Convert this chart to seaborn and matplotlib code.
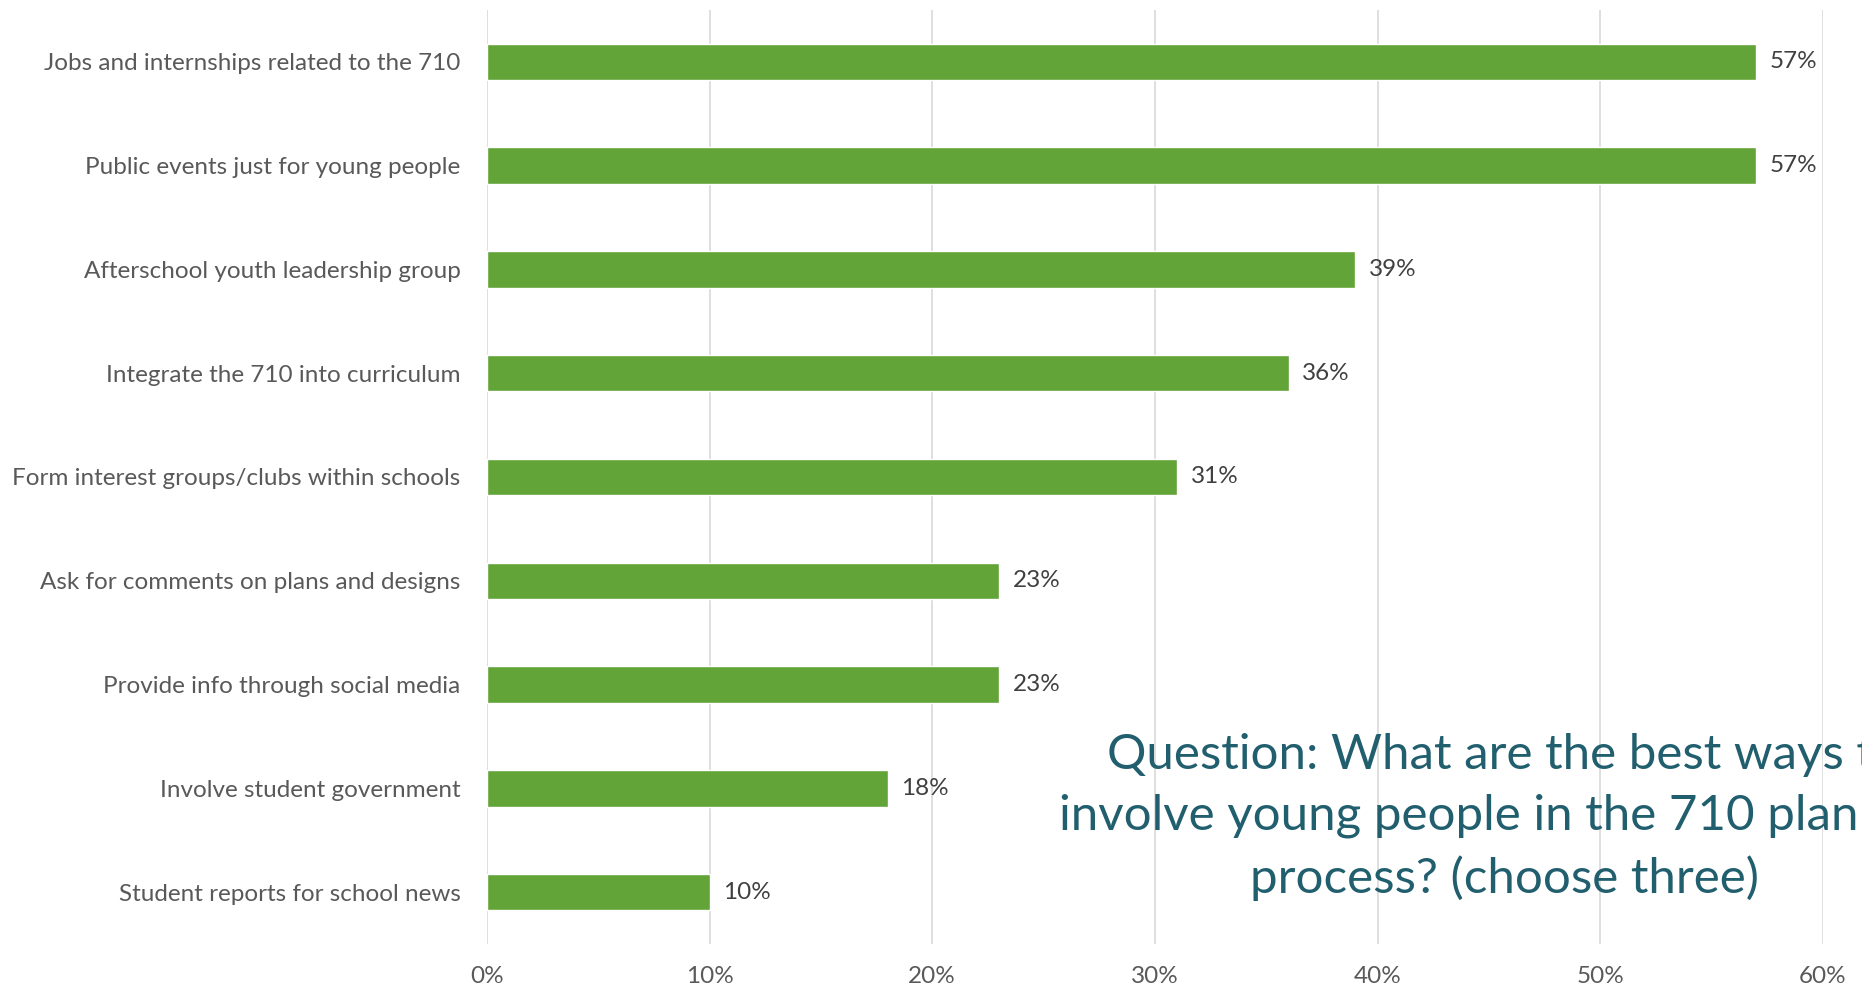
import matplotlib
matplotlib.use("Agg")
import matplotlib.pyplot as plt
import seaborn as sns
import pandas as pd
from matplotlib.ticker import PercentFormatter

# survey answers, top to bottom
options = [
    "Jobs and internships related to the 710",
    "Public events just for young people",
    "Afterschool youth leadership group",
    "Integrate the 710 into curriculum",
    "Form interest groups/clubs within schools",
    "Ask for comments on plans and designs",
    "Provide info through social media",
    "Involve student government",
    "Student reports for school news",
]
shares = [0.57, 0.57, 0.39, 0.36, 0.31, 0.23, 0.23, 0.18, 0.10]
x_ticks = [0.0, 0.1, 0.2, 0.3, 0.4, 0.5, 0.6]

question = ("Question: What are the best ways to\n"
            "involve young people in the 710 planning\n"
            "process? (choose three)")

df = pd.DataFrame({"option": options, "share": shares})

sns.set_style("white")
plt.rcParams["font.family"] = ["Lato", "DejaVu Sans"]

fig = plt.figure(figsize=(18.62, 9.88), dpi=100)
ax = fig.add_axes([0.2615, 0.0445, 0.979 - 0.2615, 0.99 - 0.0445])

sns.barplot(data=df, x="share", y="option", orient="h", color="#62A438",
            saturation=1, width=0.35, ax=ax)

ax.set_xlim(0, 0.6)
ax.set_ylim(len(options) - 0.5, -0.5)
ax.set_xticks(x_ticks)
ax.xaxis.set_major_formatter(PercentFormatter(1.0, decimals=0))
ax.grid(axis="x", color="#D9D9D9", linewidth=1.2)
ax.set_axisbelow(True)
for s in ax.spines.values():
    s.set_visible(False)
ax.tick_params(axis="both", length=0)
ax.tick_params(axis="y", labelsize=17.5, labelcolor="#595959", pad=19)
ax.tick_params(axis="x", labelsize=17.5, labelcolor="#595959", pad=16)
ax.set_xlabel("")
ax.set_ylabel("")

# value labels at the end of the bars
for i, v in enumerate(shares):
    ax.text(v + 0.006, i, f"{v:.0%}", va="center", ha="left",
            fontsize=17.5, color="#404040")

# question text runs past the right edge, as in the original slide
fig.text(0.808, 0.173, question, ha="center", va="center", fontsize=35.5,
         color="#215E6E", linespacing=1.46)

fig.savefig("out.png", dpi=100)
